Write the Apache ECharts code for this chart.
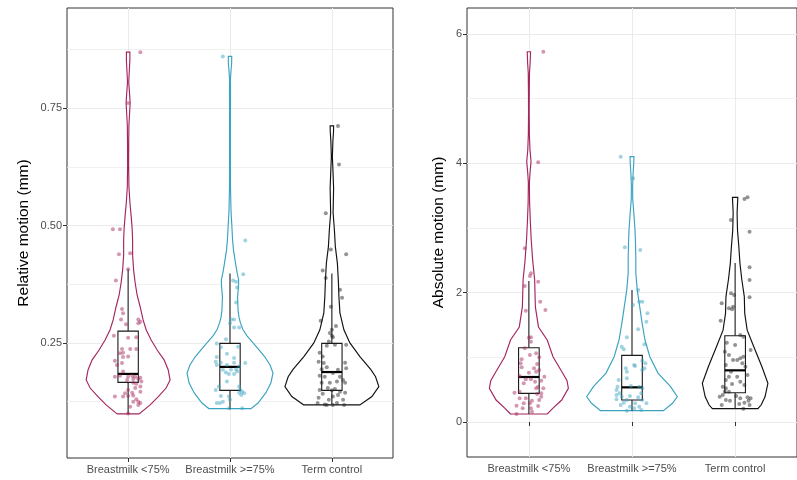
<!DOCTYPE html>
<html><head><meta charset="utf-8">
<script src="https://cdn.jsdelivr.net/npm/echarts@6/dist/echarts.min.js"></script>
<style>html,body{margin:0;padding:0;background:#fff}#c{width:797px;height:480px}</style>
</head><body><div id="c"></div><script>
// ---------- data ----------
const categories = ['Breastmilk <75%', 'Breastmilk >=75%', 'Term control'];
const relTickLabels = [0.25, 0.5, 0.75];
const relMinorTicks = [0.125, 0.375, 0.625, 0.875];
const absTickLabels = [0, 2, 4, 6];
const absMinorTicks = [1, 3, 5];

// violin outlines: [value, half-width (density)]
const relViolinLow = [[0.099,0.108],[0.118,0.216],[0.135,0.294],[0.154,0.373],[0.171,0.412],[0.193,0.393],[0.214,0.353],[0.235,0.285],[0.256,0.226],[0.278,0.177],[0.299,0.147],[0.327,0.118],[0.352,0.088],[0.378,0.069],[0.405,0.054],[0.437,0.044],[0.469,0.044],[0.495,0.039],[0.522,0.029],[0.548,0.018],[0.582,0.008],[0.629,0.005],[0.682,0.006],[0.714,0.008],[0.746,0.016],[0.761,0.020],[0.778,0.015],[0.805,0.006],[0.831,0.012],[0.852,0.017],[0.869,0.017]];
const relViolinHigh = [[0.110,0.206],[0.122,0.275],[0.144,0.353],[0.165,0.402],[0.186,0.422],[0.203,0.393],[0.220,0.343],[0.235,0.285],[0.250,0.226],[0.265,0.167],[0.278,0.128],[0.292,0.103],[0.305,0.088],[0.320,0.079],[0.348,0.074],[0.370,0.083],[0.384,0.085],[0.400,0.069],[0.420,0.054],[0.448,0.034],[0.470,0.025],[0.500,0.018],[0.530,0.010],[0.580,0.005],[0.650,0.004],[0.720,0.004],[0.790,0.005],[0.810,0.004],[0.830,0.010],[0.845,0.016],[0.860,0.017]];
const relViolinTerm = [[0.118,0.275],[0.136,0.393],[0.157,0.461],[0.178,0.429],[0.193,0.383],[0.221,0.275],[0.250,0.177],[0.278,0.118],[0.314,0.079],[0.349,0.069],[0.380,0.064],[0.420,0.054],[0.455,0.034],[0.490,0.025],[0.527,0.012],[0.580,0.017],[0.620,0.010],[0.646,0.005],[0.680,0.010],[0.700,0.016],[0.712,0.017]];
const absViolinLow = [[0.124,0.178],[0.216,0.234],[0.340,0.318],[0.520,0.383],[0.640,0.370],[0.757,0.327],[1.010,0.234],[1.268,0.178],[1.470,0.093],[1.780,0.063],[2.200,0.056],[2.500,0.037],[2.810,0.023],[3.100,0.014],[3.400,0.007],[3.700,0.005],[3.850,0.011],[4.030,0.021],[4.200,0.011],[4.450,0.005],[4.800,0.003],[5.100,0.004],[5.400,0.006],[5.550,0.012],[5.726,0.016]];
const absViolinHigh = [[0.175,0.304],[0.290,0.393],[0.390,0.439],[0.546,0.374],[0.757,0.252],[1.010,0.173],[1.268,0.126],[1.530,0.098],[1.780,0.075],[2.040,0.051],[2.300,0.037],[2.550,0.037],[2.810,0.033],[3.000,0.028],[3.200,0.019],[3.450,0.007],[3.650,0.006],[3.850,0.011],[4.000,0.017],[4.103,0.019]];
const absViolinTerm = [[0.206,0.221],[0.263,0.252],[0.390,0.290],[0.598,0.318],[0.855,0.260],[1.160,0.182],[1.420,0.117],[1.680,0.093],[1.940,0.089],[2.200,0.065],[2.450,0.047],[2.710,0.036],[2.970,0.023],[3.230,0.019],[3.474,0.026]];

// box stats: [lower whisker, Q1, median, Q3, upper whisker]
const relBoxes = [[0.099,0.166,0.184,0.275,0.407],[0.109,0.149,0.199,0.249,0.398],[0.120,0.149,0.188,0.249,0.398]];
const absBoxes = [[0.124,0.443,0.696,1.149,2.18],[0.175,0.340,0.536,1.031,2.04],[0.201,0.453,0.799,1.335,2.46]];

// jittered observations: [jitter offset, value]
const relPtsLow = [[0.12,0.869],[0.00,0.761],[-0.15,0.492],[-0.08,0.492],[-0.09,0.439],[0.02,0.441],[-0.12,0.383],[0.00,0.407],[-0.06,0.322],[-0.05,0.313],[-0.07,0.300],[-0.02,0.290],[0.10,0.300],[0.12,0.295],[0.10,0.292],[-0.14,0.265],[0.00,0.261],[0.08,0.262],[-0.06,0.237],[0.02,0.237],[0.08,0.237],[-0.08,0.228],[-0.05,0.229],[0.00,0.221],[-0.05,0.220],[-0.13,0.212],[-0.11,0.203],[-0.06,0.207],[-0.05,0.189],[-0.13,0.178],[-0.08,0.180],[0.00,0.178],[0.04,0.180],[0.07,0.178],[0.12,0.176],[-0.01,0.171],[0.05,0.173],[0.10,0.173],[0.13,0.168],[0.05,0.165],[0.08,0.163],[0.12,0.157],[0.07,0.154],[0.00,0.150],[0.04,0.144],[-0.03,0.143],[0.12,0.146],[0.05,0.138],[0.00,0.137],[-0.13,0.136],[-0.05,0.136],[0.08,0.130],[0.05,0.125],[0.12,0.122],[0.10,0.118],[0.02,0.114],[0.00,0.100],[0.10,0.125]];
const relPtsHigh = [[-0.07,0.860],[0.15,0.468],[0.13,0.396],[0.03,0.383],[0.06,0.380],[0.07,0.368],[0.06,0.336],[0.01,0.300],[0.04,0.300],[0.00,0.292],[0.09,0.283],[0.04,0.283],[-0.04,0.258],[-0.13,0.249],[-0.09,0.241],[0.08,0.242],[-0.03,0.227],[-0.13,0.220],[0.04,0.218],[-0.14,0.210],[-0.09,0.208],[0.04,0.208],[0.15,0.207],[-0.13,0.203],[-0.03,0.203],[0.09,0.200],[-0.07,0.193],[0.01,0.193],[0.06,0.194],[-0.04,0.187],[0.07,0.189],[-0.01,0.184],[0.04,0.184],[-0.03,0.168],[-0.11,0.157],[0.09,0.157],[0.10,0.150],[-0.14,0.150],[0.12,0.146],[0.14,0.143],[0.09,0.144],[0.11,0.139],[-0.01,0.136],[-0.09,0.137],[-0.07,0.125],[-0.13,0.122],[0.00,0.129],[0.12,0.111],[-0.01,0.111],[-0.10,0.122]];
const relPtsTerm = [[0.06,0.712],[0.07,0.630],[-0.06,0.526],[-0.01,0.449],[0.14,0.439],[-0.09,0.404],[-0.06,0.388],[0.08,0.363],[0.10,0.346],[-0.01,0.327],[-0.11,0.297],[0.04,0.286],[0.00,0.278],[-0.02,0.271],[0.00,0.265],[0.01,0.262],[-0.03,0.253],[0.14,0.246],[0.03,0.246],[-0.05,0.244],[-0.12,0.229],[-0.09,0.221],[-0.13,0.210],[-0.08,0.207],[0.13,0.208],[-0.05,0.198],[0.14,0.196],[0.06,0.193],[-0.10,0.194],[0.01,0.186],[-0.12,0.180],[-0.07,0.178],[0.08,0.178],[0.11,0.171],[0.05,0.168],[-0.02,0.165],[-0.10,0.165],[0.13,0.165],[-0.04,0.154],[0.03,0.152],[-0.12,0.150],[0.00,0.149],[0.08,0.146],[0.13,0.144],[-0.09,0.142],[0.06,0.139],[0.01,0.136],[-0.13,0.133],[0.11,0.129],[-0.03,0.129],[-0.14,0.122],[-0.05,0.118],[0.05,0.122],[0.12,0.118],[0.01,0.118],[-0.07,0.119]];
const absPtsLow = [[0.14,5.726],[0.09,4.016],[-0.04,2.686],[0.02,2.299],[0.01,2.258],[-0.04,2.103],[0.09,2.170],[0.11,1.861],[0.16,1.732],[-0.03,1.721],[0.00,1.304],[0.02,1.310],[0.02,1.242],[-0.04,1.140],[0.07,1.062],[0.01,1.036],[-0.07,0.970],[0.10,1.000],[-0.08,0.907],[0.08,0.897],[0.05,0.830],[-0.07,0.846],[0.10,0.804],[0.07,0.778],[0.00,0.763],[-0.09,0.711],[0.15,0.701],[-0.03,0.660],[0.02,0.660],[0.06,0.623],[0.12,0.639],[-0.05,0.598],[0.09,0.546],[0.07,0.521],[0.14,0.521],[-0.09,0.469],[-0.14,0.453],[0.12,0.443],[0.08,0.433],[0.12,0.392],[-0.03,0.366],[0.03,0.330],[0.10,0.340],[0.01,0.289],[-0.05,0.289],[-0.12,0.252],[0.09,0.247],[0.02,0.211],[0.03,0.159],[-0.12,0.124],[-0.06,0.211],[-0.09,0.366]];
const absPtsHigh = [[-0.11,4.103],[0.01,3.770],[-0.07,2.701],[0.08,2.660],[0.06,2.041],[0.01,1.809],[0.07,1.861],[0.10,1.861],[0.15,1.681],[0.14,1.551],[0.06,1.433],[-0.05,1.310],[-0.10,1.165],[-0.08,1.124],[0.12,1.201],[0.10,0.948],[-0.06,0.830],[0.02,0.881],[0.03,0.866],[0.13,0.907],[0.12,0.830],[-0.05,0.778],[0.10,0.804],[-0.13,0.649],[-0.05,0.676],[-0.14,0.546],[-0.01,0.557],[0.07,0.546],[0.10,0.521],[-0.12,0.443],[-0.15,0.417],[0.09,0.443],[-0.10,0.392],[-0.02,0.402],[0.06,0.382],[-0.15,0.351],[0.10,0.340],[-0.05,0.340],[-0.08,0.299],[0.03,0.289],[-0.11,0.263],[0.14,0.289],[-0.02,0.237],[0.07,0.237],[-0.05,0.175],[0.09,0.186],[0.02,0.211],[-0.15,0.495]];
const absPtsTerm = [[0.09,3.448],[0.12,3.474],[-0.04,3.124],[0.14,2.943],[0.14,2.392],[0.14,2.196],[-0.04,1.990],[-0.01,1.964],[0.14,1.928],[-0.13,1.835],[-0.06,1.758],[-0.03,1.743],[-0.14,1.567],[-0.02,1.783],[0.05,1.345],[0.08,1.319],[-0.08,1.226],[0.00,1.191],[0.15,1.113],[-0.10,1.087],[-0.06,1.036],[0.05,0.985],[0.08,1.010],[-0.02,0.959],[0.02,0.959],[0.07,0.907],[-0.09,0.881],[0.10,0.856],[-0.04,0.778],[0.12,0.727],[-0.06,0.701],[0.02,0.701],[-0.09,0.649],[0.05,0.623],[-0.03,0.588],[0.09,0.572],[-0.12,0.546],[-0.09,0.521],[-0.06,0.469],[-0.10,0.469],[-0.12,0.417],[0.01,0.402],[-0.15,0.392],[0.12,0.382],[0.05,0.366],[0.15,0.366],[-0.09,0.340],[-0.05,0.330],[0.13,0.330],[0.09,0.299],[-0.13,0.263],[0.04,0.278],[0.14,0.263],[0.08,0.206]];

// ---------- styling ----------
const lineColors = ['#a3265f', '#3aa3c1', '#111111'];
const pointColors = ['rgba(163,38,95,0.6)', 'rgba(58,163,193,0.6)', 'rgba(30,30,30,0.6)'];
const FONT = 'Liberation Sans';

function violinSeries(profiles, gi) {
  return {
    type: 'custom', xAxisIndex: gi, yAxisIndex: gi * 2, silent: true, z: 2,
    data: profiles.map((p, i) => [i + 1, p[0][0]]),
    renderItem: function (params, api) {
      const i = params.dataIndex, prof = profiles[i], c = i + 1;
      const left = prof.map(p => api.coord([c - p[1], p[0]]));
      const right = prof.slice().reverse().map(p => api.coord([c + p[1], p[0]]));
      return { type: 'polygon', shape: { points: left.concat(right) },
        style: { fill: '#ffffff', stroke: lineColors[i], lineWidth: 1.15 } };
    }
  };
}
function boxSeries(boxes, gi) {
  return {
    type: 'custom', xAxisIndex: gi, yAxisIndex: gi * 2, silent: true, z: 3,
    data: boxes.map((b, i) => [i + 1, b[2]]),
    renderItem: function (params, api) {
      const i = params.dataIndex, b = boxes[i], c = i + 1, w = 0.1;
      const p = (x, y) => api.coord([x, y]);
      const tl = p(c - w, b[3]), br = p(c + w, b[1]);
      const st = { stroke: '#1a1a1a', lineWidth: 1.1, fill: null };
      return { type: 'group', children: [
        { type: 'line', shape: { x1: p(c, b[3])[0], y1: p(c, b[3])[1], x2: p(c, b[4])[0], y2: p(c, b[4])[1] }, style: st },
        { type: 'line', shape: { x1: p(c, b[0])[0], y1: p(c, b[0])[1], x2: p(c, b[1])[0], y2: p(c, b[1])[1] }, style: st },
        { type: 'rect', shape: { x: tl[0], y: tl[1], width: br[0] - tl[0], height: br[1] - tl[1] }, style: { stroke: '#1a1a1a', lineWidth: 1.1, fill: '#ffffff' } },
        { type: 'line', shape: { x1: p(c - w, b[2])[0], y1: p(c - w, b[2])[1], x2: p(c + w, b[2])[0], y2: p(c + w, b[2])[1] }, style: { stroke: '#000', lineWidth: 2.2 } }
      ] };
    }
  };
}
function pointSeries(pts, i, gi) {
  return {
    type: 'scatter', xAxisIndex: gi, yAxisIndex: gi * 2, silent: true, z: 4,
    symbolSize: 4, itemStyle: { color: pointColors[i] },
    data: pts.map(p => [i + 1 + p[0], p[1]])
  };
}

function xAxisFor(gi) {
  return {
    type: 'value', gridIndex: gi, min: 0.4, max: 3.6,
    axisLine: { show: false },
    axisTick: { show: true, length: 4, lineStyle: { color: '#333' }, customValues: [1, 2, 3] },
    axisLabel: { customValues: [1, 2, 3], formatter: v => categories[Math.round(v) - 1], color: '#4d4d4d', fontSize: 11, fontFamily: FONT, margin: 6 },
    splitLine: { show: true, lineStyle: { color: '#ebebeb', width: 1 } }
  };
}
function yAxisMajor(gi, min, max, ticks, fmt, name, gap) {
  return {
    type: 'value', gridIndex: gi, min: min, max: max, position: 'left',
    name: name, nameLocation: 'middle', nameGap: gap,
    nameTextStyle: { color: '#000', fontSize: 15.5, fontFamily: FONT },
    axisLine: { show: false },
    axisTick: { show: true, length: 4, lineStyle: { color: '#333' }, customValues: ticks },
    axisLabel: { customValues: ticks, formatter: fmt, color: '#4d4d4d', fontSize: 11, fontFamily: FONT, margin: 5 },
    splitLine: { show: true, lineStyle: { color: '#ebebeb', width: 1 } }
  };
}
function yAxisMinor(gi, min, max, ticks) {
  return {
    type: 'value', gridIndex: gi, min: min, max: max, position: 'left',
    axisLine: { show: false },
    axisTick: { show: false, customValues: ticks },
    axisLabel: { show: false, customValues: ticks },
    splitLine: { show: true, lineStyle: { color: '#ebebeb', width: 0.7 } }
  };
}

const chart = echarts.init(document.getElementById('c'), null, { renderer: 'canvas' });
chart.setOption({
  animation: false,
  backgroundColor: '#ffffff',
  grid: [
    { left: 67, top: 8, width: 326, height: 450, show: true, borderColor: '#333333', borderWidth: 1, backgroundColor: 'transparent' },
    { left: 467, top: 8, width: 342, height: 449, show: true, borderColor: '#333333', borderWidth: 1, backgroundColor: 'transparent' }
  ],
  xAxis: [xAxisFor(0), xAxisFor(1)],
  yAxis: [
    yAxisMajor(0, 0.005, 0.963, relTickLabels, v => v.toFixed(2), 'Relative motion (mm)', 35),
    yAxisMinor(0, 0.005, 0.963, relMinorTicks),
    yAxisMajor(1, -0.541, 6.402, absTickLabels, v => String(v), 'Absolute motion (mm)', 20),
    yAxisMinor(1, -0.541, 6.402, absMinorTicks)
  ],
  series: [
    violinSeries([relViolinLow, relViolinHigh, relViolinTerm], 0),
    boxSeries(relBoxes, 0),
    pointSeries(relPtsLow, 0, 0), pointSeries(relPtsHigh, 1, 0), pointSeries(relPtsTerm, 2, 0),
    violinSeries([absViolinLow, absViolinHigh, absViolinTerm], 1),
    boxSeries(absBoxes, 1),
    pointSeries(absPtsLow, 0, 1), pointSeries(absPtsHigh, 1, 1), pointSeries(absPtsTerm, 2, 1)
  ]
});
</script></body></html>
